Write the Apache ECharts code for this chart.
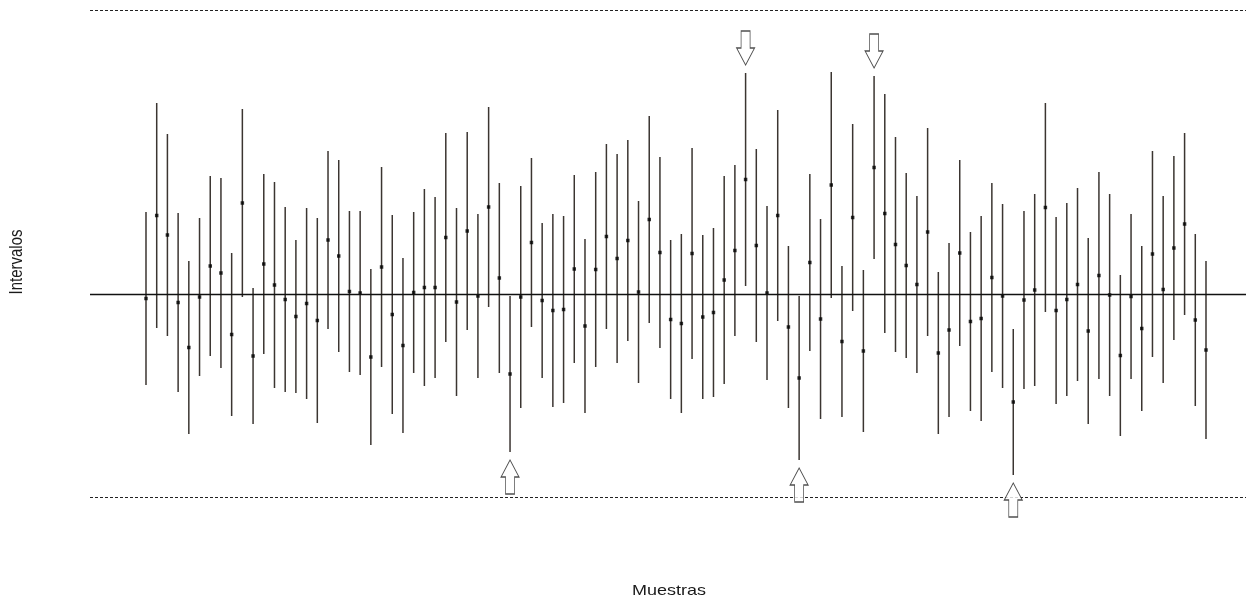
<!DOCTYPE html>
<html>
<head>
<meta charset="utf-8">
<script src="https://cdn.jsdelivr.net/npm/echarts@6/dist/echarts.min.js"></script>
<style>
  html, body { margin: 0; padding: 0; background: #ffffff; }
  #chart { width: 1248px; height: 601px; }
</style>
</head>
<body>
<div id="chart"></div>
<script>
// ---- Data ----
// Sample index 1..100
const samples = Array.from({ length: 100 }, (_, k) => k + 1);

// Lower limits of each confidence interval
const lower = [
  -0.91, -0.34, -0.42, -0.98, -1.40, -0.82, -0.62, -0.74, -1.22, -0.03,
  -1.30, -0.60, -0.94, -0.98, -0.99, -1.05, -1.29, -0.35, -0.58, -0.78,
  -0.81, -1.51, -0.73, -1.20, -1.39, -0.79, -0.92, -0.84, -0.48, -1.02,
  -0.36, -0.84, -0.13, -0.79, -1.58, -1.14, -0.33, -0.84, -1.13, -1.09,
  -0.69, -1.19, -0.73, -0.35, -0.69, -0.47, -0.89, -0.29, -0.54, -1.05,
  -1.19, -0.65, -1.05, -1.03, -0.90, -0.42,  0.08, -0.48, -0.86, -0.27,
  -1.14, -1.66, -0.57, -1.25, -0.04, -1.23, -0.17, -1.38,  0.35, -0.39,
  -0.58, -0.64, -0.79, -0.42, -1.40, -1.23, -0.52, -1.17, -1.27, -0.78,
  -0.94, -1.81, -0.95, -0.92, -0.18, -1.10, -1.02, -0.87, -1.30, -0.85,
  -1.02, -1.42, -0.85, -1.17, -0.63, -0.89, -0.46, -0.21, -1.12, -1.45
];

// Upper limits of each confidence interval
const upper = [
   0.82,  1.91,  1.60,  0.81,  0.33,  0.76,  1.18,  1.16,  0.41,  1.85,
   0.06,  1.20,  1.12,  0.87,  0.54,  0.86,  0.76,  1.43,  1.34,  0.83,
   0.83,  0.25,  1.27,  0.79,  0.36,  0.82,  1.05,  0.97,  1.61,  0.86,
   1.62,  0.80,  1.87,  1.11, -0.02,  1.08,  1.36,  0.71,  0.80,  0.78,
   1.19,  0.55,  1.22,  1.50,  1.40,  1.54,  0.93,  1.78,  1.37,  0.54,
   0.60,  1.46,  0.59,  0.66,  1.18,  1.29,  2.21,  1.45,  0.88,  1.84,
   0.48, -0.02,  1.20,  0.75,  2.22,  0.28,  1.70,  0.24,  2.18,  2.00,
   1.57,  1.21,  0.98,  1.66,  0.22,  0.51,  1.34,  0.62,  0.78,  1.11,
   0.90, -0.35,  0.83,  1.00,  1.91,  0.77,  0.91,  1.06,  0.56,  1.22,
   1.00,  0.19,  0.80,  0.48,  1.43,  0.98,  1.38,  1.61,  0.60,  0.33
];

// True mean (solid reference line) and dotted bounds
const trueMean = 0;
const dottedBounds = [2.84, -2.03];

// Axis titles
const xTitle = 'Muestras';
const yTitle = 'Intervalos';

// ---- Derived series ----
const intervalData = samples.map((s, k) => [s, lower[k], upper[k]]);
const meanData = samples.map((s, k) => [s, (lower[k] + upper[k]) / 2]);
const missAbove = samples.map((s, k) => [s, upper[k], lower[k]]).filter(d => d[2] > trueMean).map(d => [d[0], d[1]]);
const missBelow = samples.map((s, k) => [s, lower[k], upper[k]]).filter(d => d[2] < trueMean).map(d => [d[0], d[1]]);

const downArrow = 'path://M4.5,0 L13.5,0 L13.5,17 L18,17 L9,34 L0,17 L4.5,17 Z';
const upArrow = 'path://M9,0 L18,17 L13.5,17 L13.5,34 L4.5,34 L4.5,17 L0,17 Z';

const chart = echarts.init(document.getElementById('chart'), null, { renderer: 'canvas' });

const option = {
  backgroundColor: '#ffffff',
  animation: false,
  grid: { left: 90, right: 2, top: 4, bottom: 97 },
  xAxis: { type: 'value', min: -4.230, max: 103.736, show: false },
  yAxis: { type: 'value', min: -2.10, max: 2.90, show: false },
  graphic: [
    {
      type: 'text', x: 669, y: 591, scaleX: 1.2,
      style: { text: xTitle, fontFamily: 'Liberation Sans, Arial, sans-serif', fontSize: 15, fill: '#1a1a1a', align: 'center', verticalAlign: 'middle' }
    },
    {
      type: 'text', x: 17, y: 262, rotation: Math.PI / 2, scaleY: 1.2,
      style: { text: yTitle, fontFamily: 'Liberation Sans, Arial, sans-serif', fontSize: 15, fill: '#1a1a1a', align: 'center', verticalAlign: 'middle' }
    }
  ],
  series: [
    {
      type: 'custom',
      name: 'intervals',
      data: intervalData,
      encode: { x: 0, y: [1, 2] },
      z: 3,
      renderItem: function (params, api) {
        const p1 = api.coord([api.value(0), api.value(1)]);
        const p2 = api.coord([api.value(0), api.value(2)]);
        return {
          type: 'line',
          shape: { x1: p1[0], y1: p1[1], x2: p2[0], y2: p2[1] },
          style: { stroke: '#3b3531', lineWidth: 1.5 }
        };
      },
      markLine: {
        silent: true,
        symbol: 'none',
        label: { show: false },
        data: [
          { yAxis: trueMean, lineStyle: { color: '#111', width: 1.3, type: 'solid' } },
          { yAxis: dottedBounds[0], lineStyle: { color: '#222', width: 1.2, type: [3, 2] } },
          { yAxis: dottedBounds[1], lineStyle: { color: '#222', width: 1.2, type: [3, 2] } }
        ]
      }
    },
    {
      type: 'scatter',
      name: 'means',
      data: meanData,
      symbol: 'rect',
      symbolSize: 3.5,
      z: 4,
      itemStyle: { color: '#000' }
    },
    {
      type: 'scatter',
      name: 'missAbove',
      data: missAbove,
      symbol: downArrow,
      symbolSize: [18, 34],
      symbolOffset: [0, -25],
      z: 5,
      itemStyle: { color: '#ffffff', borderColor: '#222', borderWidth: 1 }
    },
    {
      type: 'scatter',
      name: 'missBelow',
      data: missBelow,
      symbol: upArrow,
      symbolSize: [18, 34],
      symbolOffset: [0, 25],
      z: 5,
      itemStyle: { color: '#ffffff', borderColor: '#222', borderWidth: 1 }
    }
  ]
};

chart.setOption(option);
</script>
</body>
</html>
